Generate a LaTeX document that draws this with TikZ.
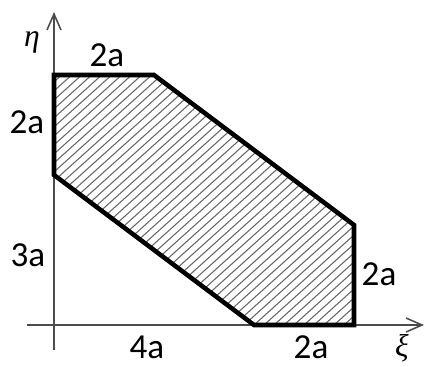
\documentclass[tikz,border=0pt]{standalone}
\usepackage{fontspec}
\setmainfont{Carlito}
\newfontfamily\grkfont{Liberation Serif}
\usepackage{tikz}
\usetikzlibrary{arrows.meta,positioning,calc}

\begin{document}
\begin{tikzpicture}[
  >={Straight Barb[length=3.2mm,width=2.8mm,line width=0.9pt]},
  font=\fontsize{20}{24}\selectfont,
  axisline/.style={draw=black!70, line width=0.6pt},
  hatchline/.style={draw=black!60, line width=0.6pt},
  outline/.style={draw=black, line width=2.6pt},
  dimlabel/.style={inner sep=1pt},
  grklabel/.style={inner sep=1pt, font=\grkfont\itshape\fontsize{18}{22}\selectfont}
]

% ==================== Khung ảnh ====================
\useasboundingbox (-1.08,-0.82) rectangle (7.44,6.5);

% ==================== Trục tọa độ ====================
\coordinate (etabot) at (0,-0.5);
\coordinate (etatop) at (0,6.26);
\coordinate (xileft) at (-0.54,0);
\coordinate (xiright) at (7.4,0);

\draw[axisline, ->] (etabot) -- (etatop);
\draw[axisline, ->] (xileft) -- (xiright);

% ==================== Miền gạch chéo ====================
\coordinate (pA) at (0,5);
\coordinate (pB) at (2,5);
\coordinate (pC) at (6,2);
\coordinate (pD) at (6,0);
\coordinate (pE) at (4,0);
\coordinate (pF) at (0,3);

\begin{scope}
  \clip (pA) -- (pB) -- (pC) -- (pD) -- (pE) -- (pF) -- cycle;
  \foreach \x in {-6.0,-5.8,...,6.3}
    \draw[hatchline] (\x,0) ++(222:1) -- ++(42:10);
\end{scope}

\draw[outline] (pA) -- (pB) -- (pC) -- (pD) -- (pE) -- (pF) -- cycle;

% ==================== Nhãn ====================
\node (etalabel) [grklabel] at (-0.44,5.66) {η};
\node (xilabel) [grklabel] at (6.96,-0.46) {ξ};

\node (topw) [dimlabel] at (1.06,5.4) {2a};
\node (lefth) [dimlabel] at (-0.54,4.06) {2a};
\node (lowh) [dimlabel] at (-0.52,1.4) {3a};
\node (botl) [dimlabel] at (1.86,-0.44) {4a};
\node (botr) [dimlabel] at (5.14,-0.44) {2a};
\node (righth) [dimlabel] at (6.5,1.02) {2a};

\end{tikzpicture}
\end{document}
